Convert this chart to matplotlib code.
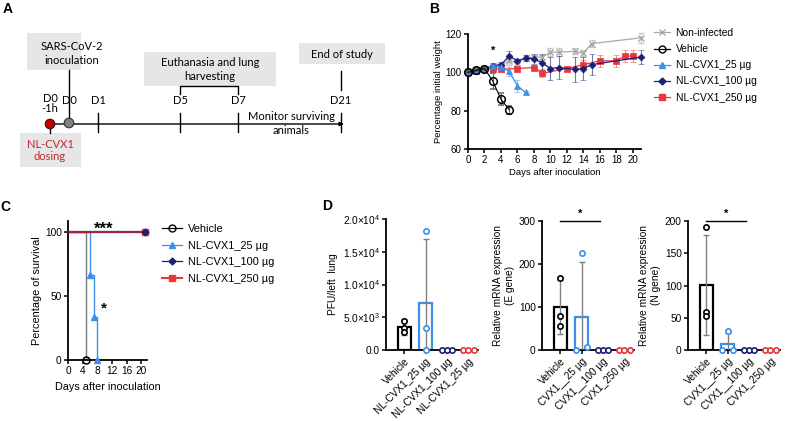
import numpy as np
import matplotlib
matplotlib.use('Agg')
import matplotlib.pyplot as plt
from matplotlib.patches import Rectangle, Circle
from matplotlib.lines import Line2D
from matplotlib.colors import to_rgba

plt.rcParams['font.family'] = ['Liberation Sans', 'DejaVu Sans']
plt.rcParams['mathtext.fontset'] = 'custom'
plt.rcParams['mathtext.rm'] = 'Liberation Sans'

# ---------------- data ----------------
# Panel B: body weight (% of initial)
noninf_days = [0, 1, 2, 3, 4, 5, 6, 7, 8, 9, 10, 11, 13, 14, 15, 21]
noninf_wt   = [100, 101, 102, 103, 104, 106, 105, 107.5, 108, 108, 110.5, 110.5, 111, 110, 115, 118]
noninf_err  = [0.5, 0.5, 1, 1, 1, 2, 1.5, 1.5, 1, 1, 2, 2, 1.5, 1.5, 2, 2.5]

veh_days = [0, 1, 2, 3, 4, 5]
veh_wt   = [100, 101, 102, 95.5, 86, 80.5]
veh_err  = [0.5, 0.5, 1, 4, 3, 2]

d25_days = [0, 1, 2, 3, 4, 5, 6, 7]
d25_wt   = [100, 101, 102, 103.5, 103, 100.5, 93, 89.5]
d25_err  = [0.5, 0.5, 1.5, 1.5, 1.5, 2.5, 3, 1]

d100_days = [0, 1, 2, 3, 4, 5, 6, 7, 8, 9, 10, 11, 13, 14, 15, 21]
d100_wt   = [100, 101, 102, 103.5, 104, 108.5, 106, 107.5, 107, 105, 102, 102.5, 101.5, 102, 104, 108]
d100_err  = [0.5, 0.5, 1, 1.5, 1.5, 2.5, 1, 1.5, 2.5, 4.5, 6, 6, 6.5, 6, 5.5, 3.5]

d250_days = [0, 1, 2, 3, 4, 6, 8, 9, 12, 14, 16, 18, 19, 20]
d250_wt   = [100, 100.5, 101.5, 102, 101.5, 102, 102.5, 99.5, 102, 104, 106, 106, 108.5, 108.5]
d250_err  = [0.5, 0.5, 1, 1.5, 1.5, 1, 1.5, 2, 1.5, 2.5, 3, 3, 3, 3]

# Panel C: survival (%)
surv_veh_days  = [0, 5]
surv_veh       = [100, 0]
surv_25_days   = [0, 6, 7, 8]
surv_25        = [100, 66.7, 33.3, 0]
surv_100_days  = [0, 21]
surv_100       = [100, 100]
surv_250_days  = [0, 21]
surv_250       = [100, 100]

# Panel D: lung viral load / mRNA
pfu_labels  = ['Vehicle', 'NL-CVX1_25 µg', 'NL-CVX1_100 µg', 'NL-CVX1_25 µg']
pfu_points  = [[4500, 3300, 2800], [18200, 3400, 0], [0, 0, 0], [0, 0, 0]]
pfu_err     = [1200, 9700, 0, 0]

egene_labels = ['Vehicle', 'CVX1__25 µg', 'CVX1__100 µg', 'CVX1_250 µg']
egene_points = [[168, 78, 55], [225, 0, 8], [0, 0, 0], [0, 0, 0]]
egene_err    = [62, 128, 0, 0]

ngene_labels = ['Vehicle', 'CVX1__25 µg', 'CVX1__100 µg', 'CVX1_250 µg']
ngene_points = [[191, 59, 53], [30, 0, 0], [0, 0, 0], [0, 0, 0]]
ngene_err    = [78, 17, 0, 0]

# Panel A: timeline
tl_labels = ['D0', 'D0', 'D1', 'D5', 'D7', 'D21']
tl_x      = [50, 69, 98, 180, 238, 341]

C_NONINF = '#a8a8a8'
C_VEH    = '#000000'
C_25     = '#3d8fe8'
C_100    = '#1c1f78'
C_250    = '#e8363b'
GROUP_COLORS = [C_VEH, C_25, C_100, C_250]

W, H = 787, 421
fig = plt.figure(figsize=(W / 100, H / 100), dpi=100)


def box(l, t, r, b):
    return [l / W, 1 - b / H, (r - l) / W, (b - t) / H]


def style_axes(ax, fs):
    for s in ['top', 'right']:
        ax.spines[s].set_visible(False)
    for s in ['left', 'bottom']:
        ax.spines[s].set_linewidth(1.3)
    ax.tick_params(direction='out', length=3, width=1.1, labelsize=fs, pad=1.5)


# ---------------- panel A (schematic, pixel coords) ----------------
axA = fig.add_axes([0, 0, 1, 1])
axA.set_xlim(0, W)
axA.set_ylim(H, 0)
axA.axis('off')
axA.patch.set_visible(False)

afont = dict(family=['Lato', 'DejaVu Sans'], fontsize=8)
grey_box = '#e6e6e6'
axA.add_patch(Rectangle((27, 33), 54, 37, fc=grey_box, ec='none'))
axA.add_patch(Rectangle((144, 52), 132, 34, fc=grey_box, ec='none'))
axA.add_patch(Rectangle((299, 43), 86, 21, fc=grey_box, ec='none'))
axA.add_patch(Rectangle((20, 133), 61, 34, fc=grey_box, ec='none'))

axA.text(72, 47, 'SARS-CoV-2', ha='center', va='center', **afont)
axA.text(72, 61, 'inoculation', ha='center', va='center', **afont)
axA.text(210, 63, 'Euthanasia and lung', ha='center', va='center', **afont)
axA.text(210, 77, 'harvesting', ha='center', va='center', **afont)
axA.text(342, 54, 'End of study', ha='center', va='center', **afont)
axA.text(50, 144, 'NL-CVX1', ha='center', va='center', color='#c0272d', **afont)
axA.text(50, 157, 'dosing', ha='center', va='center', color='#c0272d', **afont)
axA.text(291, 117, 'Monitor surviving', ha='center', va='center', **afont)
axA.text(291, 130, 'animals', ha='center', va='center', **afont)

# main arrow
axA.annotate('', xy=(344, 124), xytext=(50, 124),
             arrowprops=dict(arrowstyle='-|>', lw=1, color='k', mutation_scale=6, shrinkA=0, shrinkB=0))
for i, (lab, x) in enumerate(zip(tl_labels, tl_x)):
    if i == 0:
        axA.text(x, 98, lab, ha='center', va='center', **afont)
        axA.text(x, 108.5, '-1h', ha='center', va='center', **afont)
    else:
        axA.text(x, 100, lab, ha='center', va='center', **afont)
    if i >= 2:
        axA.plot([x, x], [113, 132], color='k', lw=1)
# connectors
axA.plot([69, 69], [70, 118], color='k', lw=1)
axA.plot([50, 50], [124, 133], color='k', lw=1)
axA.plot([180, 180, 238, 238], [94, 86, 86, 94], color='k', lw=1)
axA.plot([341, 341], [71, 90], color='k', lw=1)
axA.add_patch(Circle((50, 124), 4.8, fc='#c00000', ec='#3a1010', lw=0.8, zorder=5))
axA.add_patch(Circle((69, 123), 4.8, fc='#808080', ec='#303030', lw=0.8, zorder=5))

# panel letters
for letter, x, y in [('A', 3, 9), ('B', 429, 9), ('C', 0, 207), ('D', 322, 206)]:
    axA.text(x, y, letter, ha='left', va='center', fontsize=10, fontweight='bold')

# ---------------- panel B ----------------
axB = fig.add_axes(box(468, 34, 641, 149))
style_axes(axB, 7)
series = [
    (noninf_days, noninf_wt, noninf_err, C_NONINF, 'x', 5, 'Non-infected'),
    (d250_days, d250_wt, d250_err, C_250, 's', 5, 'NL-CVX1_250 µg'),
    (d100_days, d100_wt, d100_err, C_100, 'D', 3.5, 'NL-CVX1_100 µg'),
    (d25_days, d25_wt, d25_err, C_25, '^', 5, 'NL-CVX1_25 µg'),
]
for days, wt, err, col, mk, ms, lab in series:
    # error bars are drawn in a faded version of the series colour
    axB.errorbar(days, wt, yerr=err, color=col, ecolor=to_rgba(col, 0.6), elinewidth=0.8,
                 capsize=2.2, capthick=0.8, marker=mk, ms=ms, lw=0.9, clip_on=False,
                 mew=1 if mk == 'x' else 0.5, zorder=3)
axB.errorbar(veh_days, veh_wt, yerr=veh_err, color=C_VEH, ecolor='#666666', elinewidth=0.8,
             capsize=2.2, capthick=0.8, marker='o', ms=5.5, mfc='none', mew=1.1, lw=0.8,
             clip_on=False, zorder=4)
axB.set_xlim(0, 21)
axB.set_ylim(60, 120)
axB.set_xticks(np.arange(0, 21, 2))
axB.set_yticks([60, 80, 100, 120])
axB.set_xlabel('Days after inoculation', fontsize=6.8, labelpad=2)
axB.set_ylabel('Percentage initial weight', fontsize=6.8, labelpad=2)
axB.text(3, 111.3, '*', ha='center', va='center', fontsize=8, fontweight='bold')

legB = [
    Line2D([], [], color=C_NONINF, marker='x', ms=5, lw=0.9, label='Non-infected'),
    Line2D([], [], color=C_VEH, marker='o', ms=5, mfc='none', lw=0.9, label='Vehicle'),
    Line2D([], [], color=C_25, marker='^', ms=4.5, lw=0.9, label='NL-CVX1_25 µg'),
    Line2D([], [], color=C_100, marker='D', ms=3.5, lw=0.9, label='NL-CVX1_100 µg'),
    Line2D([], [], color=C_250, marker='s', ms=5, lw=0.9, label='NL-CVX1_250 µg'),
]
fig.legend(handles=legB, loc='upper left', bbox_to_anchor=(654 / W, 1 - 28 / H), frameon=False,
           fontsize=7.4, handlelength=1.6, handletextpad=0.5, labelspacing=0.6, borderpad=0,
           borderaxespad=0)

# ---------------- panel C ----------------
axC = fig.add_axes(box(68, 221, 147, 360))
style_axes(axC, 7.3)
axC.plot(surv_100_days, surv_100, color=C_100, lw=1.5, drawstyle='steps-post', zorder=3)
axC.plot(surv_100_days[-1:], surv_100[-1:], color=C_100, marker='D', ms=3.5, ls='none',
         clip_on=False, zorder=6)
axC.plot(surv_250_days, surv_250, color='#9e2640', lw=1.6, drawstyle='steps-post', zorder=4)
axC.plot(surv_250_days[-1:], surv_250[-1:], color=C_250, marker='s', ms=5, ls='none',
         clip_on=False, zorder=5)
axC.plot(surv_veh_days, surv_veh, color='#7a7a7a', lw=1, drawstyle='steps-post', zorder=2)
axC.plot(surv_veh_days[-1:], surv_veh[-1:], color=C_VEH, marker='o', ms=5, mfc='none', mew=1.1,
         ls='none', clip_on=False, zorder=5)
axC.plot(surv_25_days, surv_25, color=C_25, lw=1, drawstyle='steps-post', zorder=2)
axC.plot(surv_25_days[1:], surv_25[1:], color=C_25, marker='^', ms=4, ls='none',
         clip_on=False, zorder=5)
axC.set_xlim(0, 21.6)
axC.set_ylim(0, 108.6)
axC.set_xticks([0, 4, 8, 12, 16, 20])
axC.set_yticks([0, 50, 100])
axC.set_xlabel('Days after inoculation', fontsize=7.8, labelpad=4)
axC.set_ylabel('Percentage of survival', fontsize=7.8, labelpad=2)
axC.text(9.8, 102.5, '***', ha='center', va='center', fontsize=12, fontweight='bold')
axC.text(9.7, 40, '*', ha='center', va='center', fontsize=11, fontweight='bold')

legC = [
    Line2D([], [], color=C_VEH, marker='o', ms=5, mfc='none', lw=0.9, label='Vehicle'),
    Line2D([], [], color=C_25, marker='^', ms=4.5, lw=0.9, label='NL-CVX1_25 µg'),
    Line2D([], [], color=C_100, marker='D', ms=3.5, lw=0.9, label='NL-CVX1_100 µg'),
    Line2D([], [], color=C_250, marker='s', ms=5, lw=1.5, label='NL-CVX1_250 µg'),
]
fig.legend(handles=legC, loc='upper left', bbox_to_anchor=(162 / W, 1 - 224 / H), frameon=False,
           fontsize=7.9, handlelength=1.8, handletextpad=0.6, labelspacing=0.6, borderpad=0,
           borderaxespad=0)

# ---------------- panel D ----------------
# horizontal jitter of the three animals in each group
offsets_same = [0, 0, 0]
offsets_spread = [0, -0.27, 0.27]
offsets_zero = [-0.25, 0, 0.25]


def bar_panel(rect, labels, points, err, ylim, yticks, ylabel, ticklabels=None, sig=None,
              spread_low=False):
    ax = fig.add_axes(box(*rect))
    style_axes(ax, 7.3)
    x = np.arange(len(labels))
    means = [np.mean(p) for p in points]
    for i in range(len(labels)):
        col = GROUP_COLORS[i]
        if means[i] > 0:
            ax.bar(x[i], means[i], width=0.62, facecolor='white', edgecolor=col, lw=1.6, zorder=2)
            ax.errorbar(x[i], means[i], yerr=err[i], color='#7f7f7f', elinewidth=1, capsize=2.5,
                        capthick=1, zorder=3)
            offs = offsets_spread if (spread_low and i == 1) else offsets_same
        else:
            offs = offsets_zero
        ax.plot(x[i] + np.array(offs), points[i], ls='none', marker='o', ms=3.8, mfc='white',
                mec=col, mew=1.2, clip_on=False, zorder=4)
    ax.set_xlim(-0.85, 3.45)
    ax.set_ylim(*ylim)
    ax.set_yticks(yticks)
    if ticklabels is not None:
        ax.set_yticklabels(ticklabels)
    ax.set_xticks(x)
    ax.set_xticklabels(labels, rotation=45, ha='right', rotation_mode='anchor', fontsize=7.3)
    ax.set_ylabel(ylabel, fontsize=7.3, labelpad=3)
    if sig is not None:
        ax.plot([0, 1.85], [sig, sig], color='k', lw=1, clip_on=False)
        ax.text(0.925, sig * 1.02, '*', ha='center', va='bottom', fontsize=8, fontweight='bold')
    return ax


bar_panel((386, 219, 478, 350), pfu_labels, pfu_points, pfu_err, (0, 20000),
          [0, 5000, 10000, 15000, 20000], 'PFU/left  lung',
          ticklabels=['0.0', r'5.0×10$^{3}$', r'1.0×10$^{4}$', r'1.5×10$^{4}$', r'2.0×10$^{4}$'])
bar_panel((542, 221, 634, 350), egene_labels, egene_points, egene_err, (0, 300),
          [0, 100, 200, 300], 'Relative mRNA expression\n(E gene)', sig=300, spread_low=True)
bar_panel((688, 221, 780, 350), ngene_labels, ngene_points, ngene_err, (0, 200),
          [0, 50, 100, 150, 200], 'Relative mRNA expression\n(N gene)', sig=200, spread_low=True)

fig.savefig('out.png', dpi=100)
